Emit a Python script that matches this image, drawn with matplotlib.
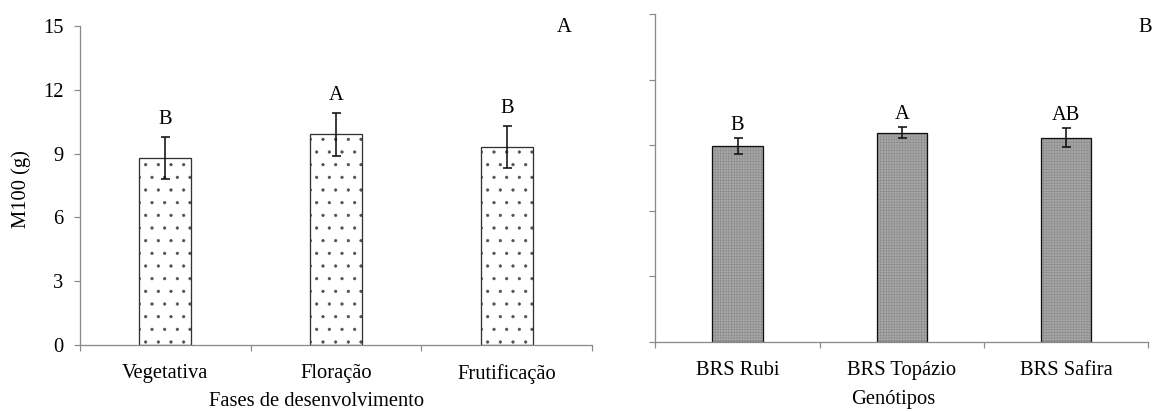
import numpy as np
import matplotlib
matplotlib.use("Agg")
import matplotlib.pyplot as plt

# dpi chosen so the dot hatch has about the same spacing as the original
DPI = 76


def px(v):
    # pixels -> points at this dpi
    return v * 72.0 / DPI


plt.rcParams['font.family'] = ['Liberation Serif', 'DejaVu Serif']
plt.rcParams['font.size'] = px(20.5)
plt.rcParams['hatch.linewidth'] = px(0.6)

# painel A - fases de desenvolvimento
fases = ["Vegetativa", "Floração", "Frutificação"]
m100_fases = [8.8, 9.9, 9.3]
erro_fases = [1.0, 1.0, 1.0]
letras_fases = ["B", "A", "B"]

# painel B - genotipos
genotipos = ["BRS Rubi", "BRS Topázio", "BRS Safira"]
m100_gen = [8.95, 9.58, 9.35]
erro_gen = [0.36, 0.23, 0.42]
letras_gen = ["B", "A", "AB"]

yticks = [0, 3, 6, 9, 12, 15]
axis_gray = "#8a8a8a"


def painel(ax, cats, vals, errs, letras, hatch, face, hcolor, edge, off, show_ylabels):
    x = np.arange(len(cats))
    bars = ax.bar(x, vals, width=0.305, color=face, edgecolor=edge,
                  linewidth=px(1.3), hatch=hatch, zorder=2)
    for b in bars:
        b._hatch_color = matplotlib.colors.to_rgba(hcolor)
    ax.errorbar(x, vals, yerr=errs, fmt="none", ecolor="#111111",
                elinewidth=px(1.6), capsize=px(4.5), capthick=px(1.6), zorder=3)
    for xi, v, e, l in zip(x, vals, errs, letras):
        ax.annotate(l, (xi, v + e), xytext=(0, px(off)), textcoords="offset points",
                    ha="center", va="bottom")
    ax.set_xlim(-0.5, len(cats) - 0.5)
    ax.set_ylim(0, 15)
    ax.set_yticks(yticks)
    if not show_ylabels:
        ax.set_yticklabels([])
    ax.set_xticks(np.arange(len(cats) + 1) - 0.5)
    ax.set_xticklabels([])
    ax.set_xticks(x, minor=True)
    ax.set_xticklabels(cats, minor=True)
    ax.tick_params(axis="x", which="minor", length=0, pad=px(19))
    ax.tick_params(axis="x", which="major", length=px(6), width=px(1.2), color=axis_gray)
    ax.tick_params(axis="y", which="major", length=px(6), width=px(1.2), color=axis_gray,
                   pad=px(10))
    for s in ["top", "right"]:
        ax.spines[s].set_visible(False)
    for s in ["left", "bottom"]:
        ax.spines[s].set_color(axis_gray)
        ax.spines[s].set_linewidth(px(1.3))


fig = plt.figure(figsize=(1156 / DPI, 412 / DPI), dpi=DPI)
ax1 = fig.add_axes([0.0689, 0.1626, 0.4435, 0.7743])
ax2 = fig.add_axes([0.5669, 0.1699, 0.4265, 0.7961])

painel(ax1, fases, m100_fases, erro_fases, letras_fases,
       ".", "white", "#505050", "#333333", 8, True)
ax1.set_ylabel("M100 (g)")
ax1.yaxis.set_label_coords(-0.095, 0.49)
ax1.set_xlabel("Fases de desenvolvimento")
ax1.xaxis.set_label_coords(0.463, -0.147)

painel(ax2, genotipos, m100_gen, erro_gen, letras_gen,
       "++++++++", "#7e7e7e", "#a6a6a6", "#111111", 3.5, False)
ax2.set_xlabel("Genótipos")
ax2.xaxis.set_label_coords(0.482, -0.147)

fig.text(564 / 1156, 1 - 27 / 412, "A", ha="center", va="center")
fig.text(1145 / 1156, 1 - 27 / 412, "B", ha="center", va="center")

fig.savefig("out.png", dpi=DPI)
